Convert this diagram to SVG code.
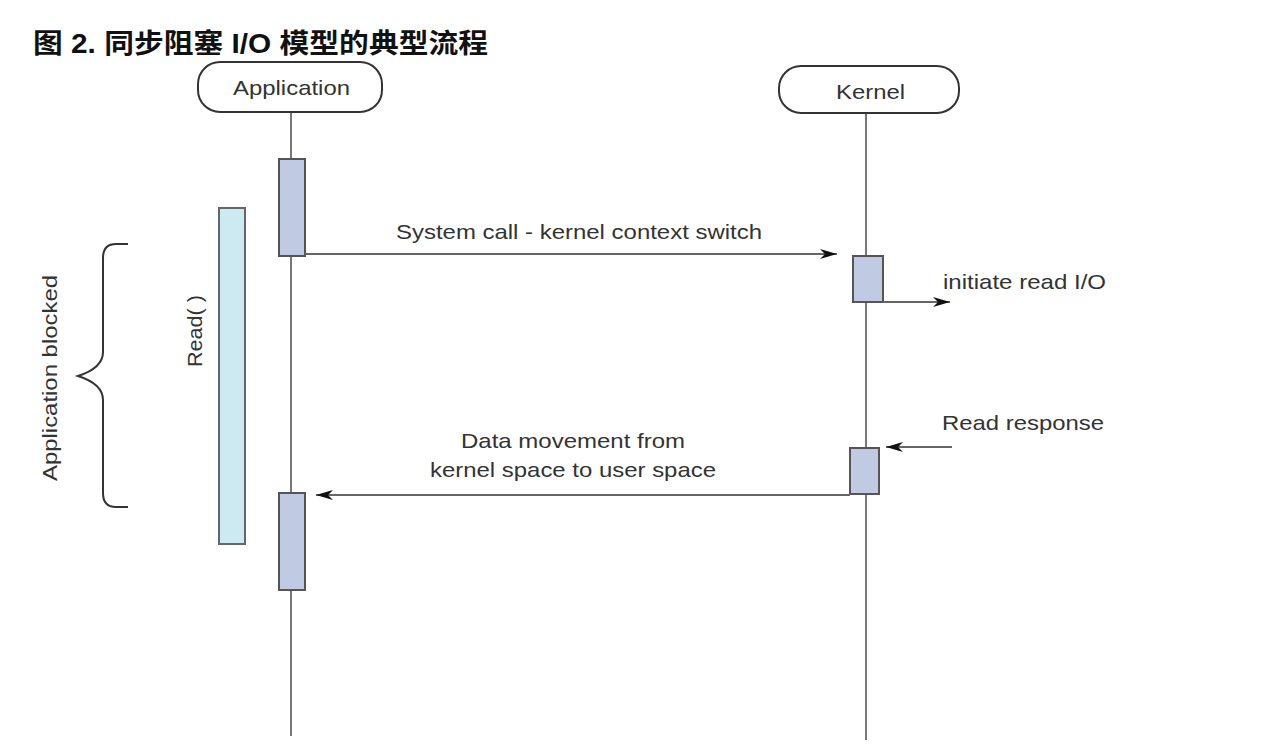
<svg xmlns="http://www.w3.org/2000/svg" width="1268" height="746" viewBox="0 0 1268 746">
<defs>
<marker id="ah" viewBox="0 0 17 11" refX="17" refY="5.5" markerWidth="17" markerHeight="11" markerUnits="userSpaceOnUse" orient="auto">
<path d="M0,0.5 L17,5.5 L0,10.5 L5,5.5 Z" fill="#111"/>
</marker>
<style>
.lbl{font-family:"Liberation Sans",Arial,sans-serif;font-size:21px;fill:#333}
.life{stroke:#777;stroke-width:2;fill:none}
.act{fill:#c0cbe3;stroke:#555;stroke-width:2}
.head{fill:#fff;stroke:#333;stroke-width:2}
.conn{stroke:#666;stroke-width:2;fill:none}
</style>
</defs>
<rect width="1268" height="746" fill="#fff"/>
<text x="33" y="53" textLength="455" lengthAdjust="spacingAndGlyphs" style="font-family:'Liberation Sans','Noto Sans CJK SC',sans-serif;font-size:27px;font-weight:bold;fill:#111">图 2. 同步阻塞 I/O 模型的典型流程</text>

<g id="application">
<line class="life" x1="291" y1="112" x2="291" y2="736"/>
<rect class="head" x="198" y="62" width="184" height="50" rx="22"/>
<text class="lbl" x="233" y="95" textLength="117" lengthAdjust="spacingAndGlyphs">Application</text>
<rect class="act" x="279" y="159" width="26" height="97"/>
<rect class="act" x="279" y="493" width="26" height="97"/>
</g>

<g id="kernel">
<line class="life" x1="866" y1="113" x2="866" y2="740"/>
<rect class="head" x="779" y="66" width="180" height="47" rx="22"/>
<text class="lbl" x="836" y="99" textLength="69" lengthAdjust="spacingAndGlyphs">Kernel</text>
<rect class="act" x="853" y="256" width="30" height="46"/>
<rect class="act" x="850" y="448" width="29" height="46"/>
</g>

<g id="read">
<rect x="219" y="208" width="26" height="336" fill="#cdeaf3" stroke="#666" stroke-width="2"/>
<text class="lbl" transform="translate(202,367) rotate(-90)" textLength="72" lengthAdjust="spacingAndGlyphs">Read( )</text>
</g>

<g id="blocked">
<path d="M128,244 L116,244 Q103,244 103,258 L103,352 Q103,368 78,376 Q103,384 103,400 L103,493 Q103,507 116,507 L128,507" fill="none" stroke="#333" stroke-width="2"/>
<text class="lbl" transform="translate(57,481) rotate(-90)" textLength="206" lengthAdjust="spacingAndGlyphs">Application blocked</text>
</g>

<g id="connectors">
<line class="conn" x1="305" y1="254" x2="837" y2="254" marker-end="url(#ah)"/>
<line class="conn" x1="883" y1="302" x2="950" y2="302" marker-end="url(#ah)"/>
<line class="conn" x1="952" y1="447" x2="886" y2="447" marker-end="url(#ah)"/>
<line class="conn" x1="850" y1="495" x2="316" y2="495" marker-end="url(#ah)"/>
</g>

<g id="labels">
<text class="lbl" x="396" y="239" textLength="366" lengthAdjust="spacingAndGlyphs">System call - kernel context switch</text>
<text class="lbl" x="943" y="289" textLength="163" lengthAdjust="spacingAndGlyphs">initiate read I/O</text>
<text class="lbl" x="942" y="430" textLength="162" lengthAdjust="spacingAndGlyphs">Read response</text>
<text class="lbl" x="461" y="448" textLength="224" lengthAdjust="spacingAndGlyphs">Data movement from</text>
<text class="lbl" x="430" y="477" textLength="286" lengthAdjust="spacingAndGlyphs">kernel space to user space</text>
</g>
</svg>
